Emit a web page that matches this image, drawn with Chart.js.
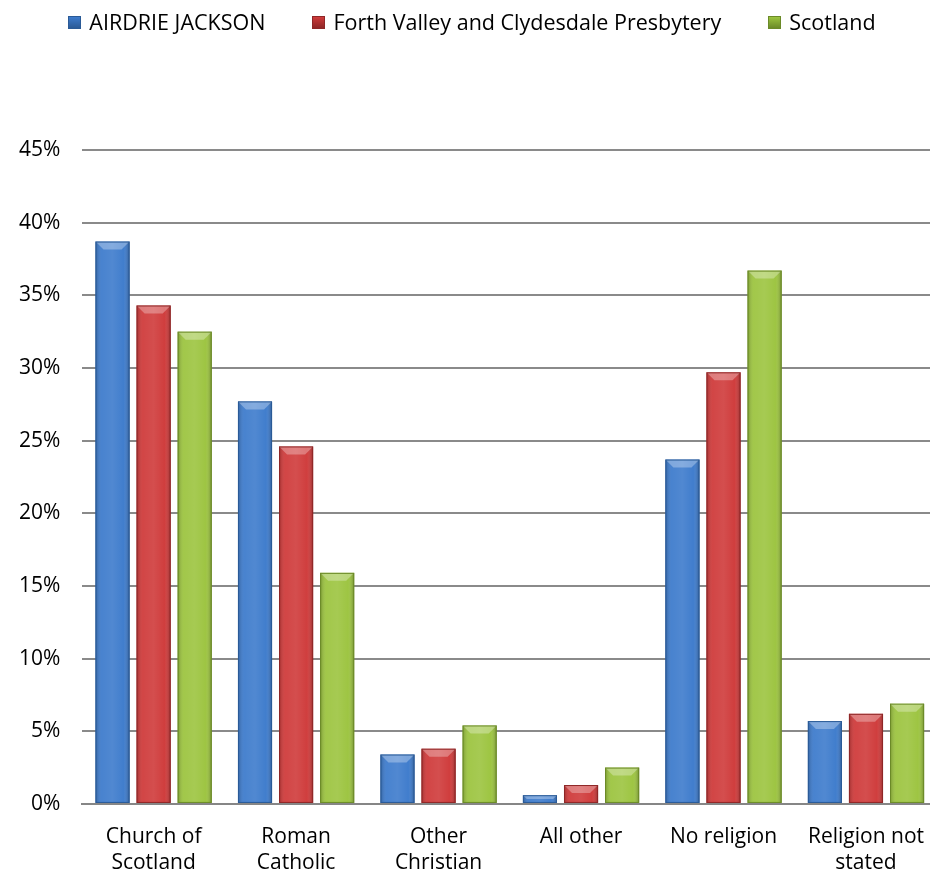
<!DOCTYPE html>
<html>
<head>
<meta charset="utf-8">
<script src="https://cdn.jsdelivr.net/npm/chart.js@4.4.1/dist/chart.umd.min.js"></script>
<style>
  html, body { margin: 0; padding: 0; background: #fff; overflow: hidden; }
  #wrap { position: relative; width: 944px; height: 875px; }
  #legend {
    position: absolute; top: 8px; left: 0; width: 944px;
    display: flex; justify-content: center; gap: 47px;
    font-family: "Open Sans", sans-serif; font-size: 21.5px; color: #000;
    line-height: 28px;
  }
  #legend .item { display: flex; align-items: center; }
  #legend .box { width: 13px; height: 13px; margin-right: 8px; box-sizing: border-box; border: 1px solid; }
  #religionChart { position: absolute; left: 0; top: 0; }
</style>
</head>
<body>
<div id="wrap">
  <canvas id="religionChart" width="944" height="875"></canvas>
  <div id="legend"></div>
</div>
<script>
const categories = [
  ["Church of", "Scotland"],
  ["Roman", "Catholic"],
  ["Other", "Christian"],
  "All other",
  "No religion",
  ["Religion not", "stated"]
];
const seriesNames = ["AIRDRIE JACKSON", "Forth Valley and Clydesdale Presbytery", "Scotland"];
const airdrieValues = [38.7, 27.7, 3.4, 0.6, 23.7, 5.7];
const presbyteryValues = [34.3, 24.6, 3.8, 1.3, 29.7, 6.2];
const scotlandValues = [32.5, 15.9, 5.4, 2.5, 36.7, 6.9];

const fillColors = ["#3d7bcc", "#cf3a3a", "#9cc43f"];
const edgeColors = ["#2a5a96", "#8e2727", "#6b8a28"];
const FONT = "Open Sans";

// gives the bars a soft bevelled look, drawn over the library's own bars
const bevelPlugin = {
  id: "bevel",
  afterDatasetsDraw(chart) {
    const ctx = chart.ctx;
    chart.data.datasets.forEach((ds, di) => {
      const meta = chart.getDatasetMeta(di);
      meta.data.forEach(bar => {
        const left = bar.x - bar.width / 2;
        const right = bar.x + bar.width / 2;
        const top = bar.y;
        const bottom = bar.base;
        const h = bottom - top;
        ctx.save();
        const g = ctx.createLinearGradient(left, 0, right, 0);
        g.addColorStop(0, "rgba(0,0,0,0.22)");
        g.addColorStop(0.18, "rgba(255,255,255,0.06)");
        g.addColorStop(0.5, "rgba(255,255,255,0.10)");
        g.addColorStop(0.82, "rgba(255,255,255,0.02)");
        g.addColorStop(1, "rgba(0,0,0,0.28)");
        ctx.fillStyle = g;
        ctx.fillRect(left, top, right - left, h);
        const d = Math.min(8, h / 2);
        ctx.beginPath();
        ctx.moveTo(left, top);
        ctx.lineTo(right, top);
        ctx.lineTo(right - d, top + d);
        ctx.lineTo(left + d, top + d);
        ctx.closePath();
        ctx.fillStyle = "rgba(255,255,255,0.30)";
        ctx.fill();
        ctx.strokeStyle = edgeColors[di];
        ctx.lineWidth = 1;
        ctx.strokeRect(left + 0.5, top + 0.5, right - left - 1, h - 1);
        ctx.restore();
      });
    });
  }
};

const allValues = [airdrieValues, presbyteryValues, scotlandValues];

// html legend
const legendEl = document.getElementById("legend");
seriesNames.forEach((name, i) => {
  const item = document.createElement("div");
  item.className = "item";
  const box = document.createElement("span");
  box.className = "box";
  box.style.background = "linear-gradient(180deg, " + fillColors[i] + ", " + edgeColors[i] + ")";
  box.style.borderColor = edgeColors[i];
  const txt = document.createElement("span");
  txt.textContent = name;
  item.appendChild(box);
  item.appendChild(txt);
  legendEl.appendChild(item);
});

new Chart(document.getElementById("religionChart"), {
  type: "bar",
  data: {
    labels: categories,
    datasets: seriesNames.map((name, i) => ({
      label: name,
      data: allValues[i],
      backgroundColor: fillColors[i],
      borderColor: edgeColors[i],
      borderWidth: 0,
      categoryPercentage: 0.865,
      barPercentage: 0.83
    }))
  },
  options: {
    responsive: false,
    animation: false,
    layout: { padding: { top: 150, left: -3, right: 0, bottom: -21 } },
    plugins: {
      legend: { display: false },
      tooltip: { enabled: false }
    },
    scales: {
      x: {
        grid: { display: false, drawTicks: false },
        border: { display: true, color: "#868686", width: 2 },
        ticks: {
          color: "#000",
          padding: 20,
          maxRotation: 0,
          autoSkip: false,
          font: { family: FONT, size: 21, lineHeight: 1.24 }
        }
      },
      y: {
        min: 0,
        max: 45,
        grid: { color: "#8a8a8a", lineWidth: 2, drawTicks: false },
        border: { display: false },
        ticks: {
          stepSize: 5,
          color: "#000",
          padding: 22,
          font: { family: FONT, size: 21 },
          callback: v => v + "%"
        }
      }
    }
  },
  plugins: [bevelPlugin]
});
</script>
</body>
</html>
